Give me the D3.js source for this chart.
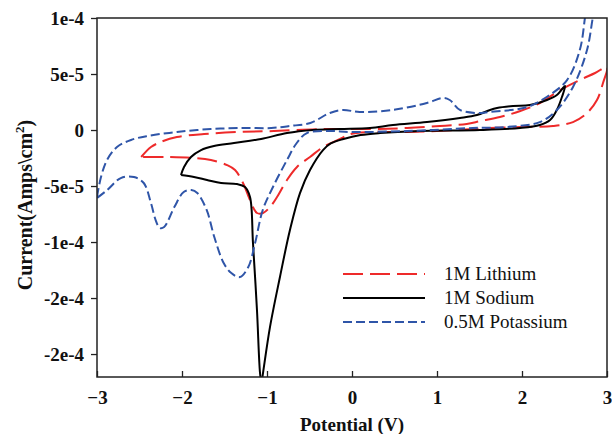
<!DOCTYPE html>
<html><head><meta charset="utf-8">
<script src="https://cdn.jsdelivr.net/npm/d3@7"></script>
<style>body{margin:0;background:#fff}svg{display:block}</style>
</head><body><svg id="c" width="612" height="434"></svg>
<script>
// ---- data (current in units of 1e-5 A/cm^2) ----
const xTicks = [-3, -2, -1, 0, 1, 2, 3];
const yTicks = [10, 5, 0, -5, -10, -15, -20];
const yTickLabels = ["1e-4", "5e-5", "0", "-5e-5", "-1e-4", "-2e-4", "-2e-4"];
const seriesNames = ["1M Lithium", "1M Sodium", "0.5M Potassium"];

const lithiumV = [-2.48,-2.365,-2.25,-2.06,-1.74,-1.35,-0.92,-0.34,0.25,0.65,1.035,1.35,1.51,1.74,1.98,2.21,2.45,2.68,2.86,3.0,
  2.953,2.882,2.765,2.60,2.365,2.01,1.62,1.235,0.65,0.18,-0.02,-0.141,-0.34,-0.494,-0.647,-0.765,-0.882,-0.965,-1.047,-1.118,-1.2,-1.282,-1.376,-1.47,-1.66,-1.86,-2.176,-2.48];
const lithiumI = [-2.41,-1.52,-1.07,-0.63,-0.36,-0.18,-0.09,0.09,0.09,0.18,0.36,0.54,0.80,1.16,1.70,2.41,3.57,4.46,5.09,5.63,
  4.20,2.68,1.52,0.71,0.36,0.27,0.18,0.0,-0.18,-0.18,-0.36,-0.80,-1.52,-2.41,-3.30,-4.46,-5.98,-6.88,-7.41,-7.41,-6.25,-4.73,-3.57,-3.13,-2.68,-2.50,-2.41,-2.41];

const sodiumV = [-2.012,-1.976,-1.894,-1.776,-1.624,-1.388,-1.07,-0.765,-0.459,-0.141,0.212,0.482,0.882,1.27,1.47,1.624,1.706,1.894,2.094,2.294,2.41,2.506,
  2.47,2.41,2.33,2.21,1.976,1.506,0.8,0.33,0.1,-0.1,-0.25,-0.341,-0.494,-0.612,-0.73,-0.847,-0.965,-1.047,-1.065,-1.082,-1.118,-1.165,-1.2,-1.259,-1.353,-1.54,-1.706,-1.859,-2.012];
const sodiumI = [-4.02,-3.30,-2.41,-1.79,-1.43,-1.16,-0.80,-0.27,0.0,0.09,0.18,0.45,0.71,1.07,1.34,1.79,1.96,2.14,2.23,2.68,3.13,3.93,
  2.95,1.79,0.89,0.45,0.18,0.0,-0.09,-0.27,-0.45,-0.80,-1.20,-1.79,-3.57,-5.63,-8.93,-13.1,-17.6,-21.7,-22.6,-21.7,-16.07,-10.09,-5.98,-5.09,-4.82,-4.73,-4.46,-4.20,-4.02];

const potassiumV = [-3.0,-2.953,-2.882,-2.765,-2.60,-2.41,-2.06,-1.66,-1.27,-0.95,-0.73,-0.49,-0.26,-0.11,0.09,0.48,0.88,1.07,1.15,1.27,1.47,1.62,2.06,2.29,2.53,2.68,2.74,2.77,
  2.82,2.87,2.835,2.765,2.60,2.41,2.21,1.82,1.42,0.65,-0.02,-0.26,-0.53,-0.65,-0.765,-0.93,-1.05,-1.14,-1.22,-1.32,-1.42,-1.51,-1.62,-1.71,-1.82,-1.89,-1.98,-2.09,-2.21,-2.26,-2.31,-2.365,-2.45,-2.565,-2.72,-2.88,-3.0];
const potassiumI = [-5.98,-4.20,-2.68,-1.52,-0.89,-0.54,-0.18,0.09,0.18,0.18,0.36,0.63,1.52,1.79,1.61,1.79,2.41,2.86,2.68,1.79,1.52,1.61,2.05,2.95,4.46,7.14,10.0,12.0,
  13.0,11.2,10.09,7.14,3.84,1.79,0.71,0.27,0.18,-0.09,-0.18,-0.09,-0.27,-1.16,-2.68,-5.09,-7.14,-10.09,-12.23,-13.13,-12.77,-11.88,-9.55,-7.14,-5.63,-5.36,-5.54,-6.88,-8.66,-8.75,-8.04,-6.52,-4.73,-4.20,-4.29,-5.36,-6.07];

// ---- layout ----
const svg = d3.select("#c");
const L = 97, R = 607, T = 18, B = 377;
const x = d3.scaleLinear().domain([-3, 3]).range([L, R]);
const y = d3.scaleLinear().domain([-22.05, 10]).range([B, T]);
const serif = "'Liberation Serif','Times New Roman',serif";

svg.append("defs").append("clipPath").attr("id", "clip")
  .append("rect").attr("x", L).attr("y", T).attr("width", R - L).attr("height", B - T);

const series = [
  {name: seriesNames[0], V: lithiumV, I: lithiumI, color: "#ee2a2a", dash: "20,7"},
  {name: seriesNames[1], V: sodiumV, I: sodiumI, color: "#000000", dash: null},
  {name: seriesNames[2], V: potassiumV, I: potassiumI, color: "#2f55a8", dash: "9,4"}
];

const line = d3.line().x(d => x(d[0])).y(d => y(d[1])).curve(d3.curveCatmullRom.alpha(0.5));
const g = svg.append("g").attr("clip-path", "url(#clip)");
series.forEach(s => {
  const pts = s.V.map((v, i) => [v, s.I[i]]);
  g.append("path").attr("d", line(pts)).attr("fill", "none")
    .attr("stroke", s.color).attr("stroke-width", 2)
    .attr("stroke-dasharray", s.dash).attr("stroke-linejoin", "round");
});

// axes
const ya = svg.append("g").attr("transform", `translate(${L},0)`)
  .call(d3.axisLeft(y).tickValues(yTicks).tickFormat((d, i) => yTickLabels[i]).tickSize(6).tickSizeOuter(0).tickPadding(7));
const xa = svg.append("g").attr("transform", `translate(0,${B})`)
  .call(d3.axisBottom(x).tickValues(xTicks).tickFormat(d3.format("d")).tickSize(-6).tickSizeOuter(0));
[ya, xa].forEach(a => {
  a.select(".domain").remove();
  a.selectAll("line").attr("stroke", "#222").attr("stroke-width", 1.3);
  a.selectAll("text").attr("font-family", serif).attr("font-weight", "bold").attr("font-size", 19).attr("fill", "#111");
});
xa.selectAll("text").attr("y", 14).attr("dy", "0.71em");

svg.append("rect").attr("x", L).attr("y", T).attr("width", R - L).attr("height", B - T)
  .attr("fill", "none").attr("stroke", "#222").attr("stroke-width", 1.5);

// axis titles
svg.append("text").attr("x", (L + R) / 2).attr("y", 431).attr("text-anchor", "middle")
  .attr("font-family", serif).attr("font-weight", "bold").attr("font-size", 19).attr("fill", "#111")
  .text("Potential (V)");
const yt = svg.append("text").attr("transform", "translate(32,205) rotate(-90)").attr("text-anchor", "middle")
  .attr("font-family", serif).attr("font-weight", "bold").attr("font-size", 20).attr("fill", "#111");
yt.append("tspan").text("Current(Amps\\cm");
yt.append("tspan").attr("dy", -8).attr("font-size", 13).text("2");
yt.append("tspan").attr("dy", 8).text(")");

// legend
const legY = [274, 298, 322];
series.forEach((s, i) => {
  svg.append("line").attr("x1", 343).attr("x2", 425).attr("y1", legY[i]).attr("y2", legY[i])
    .attr("stroke", s.color).attr("stroke-width", 2).attr("stroke-dasharray", s.dash);
  svg.append("text").attr("x", 444).attr("y", legY[i] + 6)
    .attr("font-family", serif).attr("font-size", 19).attr("fill", "#111").text(s.name);
});
</script></body></html>
